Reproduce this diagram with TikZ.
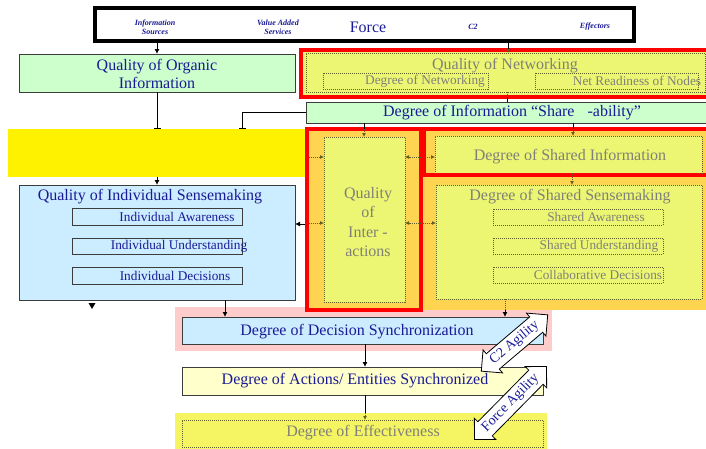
\documentclass[tikz,border=0pt]{standalone}
\usepackage{fontspec}
\setmainfont{Liberation Serif}
\usetikzlibrary{arrows.meta,shapes.arrows}
\definecolor{navy}{RGB}{26,26,150}
\definecolor{graytxt}{RGB}{128,128,120}
\definecolor{greenf}{RGB}{204,255,204}
\definecolor{bluef}{RGB}{204,236,255}
\definecolor{lyellow}{RGB}{255,255,204}
\definecolor{pinkf}{RGB}{255,204,204}
\definecolor{orangef}{RGB}{255,212,80}
\definecolor{patf}{RGB}{236,246,115}
\definecolor{patf2}{RGB}{245,245,100}
\definecolor{dotc}{RGB}{95,95,40}
\definecolor{boxline}{RGB}{60,60,60}
\newcommand\fsz[2]{\fontsize{#1}{#2}\selectfont}
\newcommand\rbox[6]{\node[#6, inner sep=0pt, outer sep=0pt, minimum width={(#4-#2)*1pt}, minimum height={(#5-#3)*1pt}] (#1) at ({(#2+#4)/2},{(#3+#5)/2}) {};}
\begin{document}
\begin{tikzpicture}[x=1pt,y=-1pt,
  every node/.style={inner sep=0pt, outer sep=0pt},
  greenbox/.style={draw=boxline, line width=0.8pt, fill=greenf},
  bluebox/.style={draw=boxline, line width=0.8pt, fill=bluef},
  ybox/.style={draw=boxline, line width=0.8pt, fill=lyellow},
  subbox/.style={draw=boxline, line width=0.8pt},
  dotbox/.style={draw=dotc, line width=0.7pt, dash pattern=on 1pt off 1pt, fill=patf},
  dotsub/.style={draw=dotc, line width=0.7pt, dash pattern=on 1pt off 1pt},
  redframe/.style={draw=red, line width=4pt, fill=orangef},
  txt/.style={text=navy, font=\fsz{16}{18}, align=center},
  subtxt/.style={text=navy, font=\fsz{13.3}{15}},
  gtxt/.style={text=graytxt, font=\fsz{16}{18}, align=center},
  gsubtxt/.style={text=graytxt, font=\fsz{13.3}{15}},
  toplab/.style={text=navy, font=\fsz{8}{9}\bfseries\itshape, align=center},
  ln/.style={draw=black, line width=0.9pt},
  arr/.style={draw=black, line width=0.9pt, -{Latex[length=5pt,width=5pt]}},
  barend/.style={draw=black, line width=0.9pt, -{Bar[width=7pt,line width=1pt]}},
  dln/.style={draw=dotc, line width=0.8pt, dash pattern=on 1pt off 1pt},
  darr/.style={draw=dotc, line width=0.8pt, dash pattern=on 1pt off 1pt, -{Latex[length=4pt,width=4pt,sep=0pt]}},
  agil/.style={double arrow, draw=black, fill=white, line width=0.8pt, text=navy, font=\fsz{14}{16}, inner sep=3.3pt, double arrow head extend=5pt, double arrow tip angle=90}
]
\clip (0,0) rectangle (706,448);
\fill[white] (0,0) rectangle (706,448);

% background areas
\rbox{pink}{175}{307}{552}{351}{fill=pinkf}
\rbox{yband}{8}{129}{307}{177}{fill=yellow}
\rbox{sensearea}{423}{176}{712}{310}{fill=orangef}
\rbox{effarea}{175}{413}{547}{452}{fill=patf2}

% top bar
\rbox{topbar}{95}{8}{634}{41}{draw=black, line width=3.5pt, fill=white}
\node[toplab] (infosrc) at (155,27) {Information\\Sources};
\node[toplab] (vas) at (278,27) {Value Added\\Services};
\node[txt, font=\fsz{16}{18}] (force) at (368,27) {Force};
\node[toplab] (ctwo) at (473,27) {C2};
\node[toplab] (effectors) at (595,27) {Effectors};

% organic information
\rbox{organic}{19}{54}{295}{92}{greenbox}
\node[txt] (organict) at (157,74) {Quality of Organic\\Information};

% networking
\rbox{netred}{301}{50}{720}{97}{redframe, fill=patf}
\rbox{netin}{306}{53}{705}{92}{dotbox}
\node[gtxt] (nett) at (505,66) {Quality of Networking};
\rbox{degnet}{323}{73}{488}{89}{dotsub}
\node[gsubtxt] (degnett) at (425,81) {Degree of Networking};
\rbox{netready}{535}{73}{698}{89}{dotsub}
\node[gsubtxt] (netreadyt) at (637,81) {Net Readiness of Nodes};

% share-ability
\rbox{shareinfo}{306}{102}{720}{123}{greenbox}
\node[txt] (shareinfot) at (512,113) {Degree of Information “Share\hspace{13pt}-ability”};

% shared information
\rbox{sinfred}{424}{129}{720}{175}{redframe}
\rbox{sinfin}{435}{136}{702}{173}{dotbox}
\node[gtxt] (sinft) at (570,157) {Degree of Shared Information};

% shared sensemaking
\rbox{sensein}{436}{185}{702}{299}{dotbox}
\node[gtxt] (senset) at (570,197) {Degree of Shared Sensemaking};
\rbox{saw}{493}{209}{663}{225}{dotsub}
\node[gsubtxt] (sawt) at (596,217) {Shared Awareness};
\rbox{sund}{493}{238}{663}{254}{dotsub}
\node[gsubtxt] (sundt) at (599,246) {Shared Understanding};
\rbox{scol}{493}{267}{663}{283}{dotsub}
\node[gsubtxt] (scolt) at (598,275) {Collaborative Decisions};

% interactions
\rbox{intred}{307}{129}{421}{310}{redframe}
\rbox{intin}{324}{137}{405}{302}{dotbox}
\node[gtxt, font=\fsz{16}{19.5}] (intt) at (368,222) {Quality\\of\\Inter -\\actions};

% individual sensemaking
\rbox{indiv}{19}{185}{295}{300}{bluebox}
\node[txt] (indivt) at (150,197) {Quality of Individual Sensemaking};
\rbox{iaw}{72}{208}{242}{225}{subbox}
\node[subtxt] (iawt) at (177,217) {Individual Awareness};
\rbox{iund}{72}{238}{242}{254}{subbox}
\node[subtxt] (iundt) at (179,246) {Individual Understanding};
\rbox{idec}{72}{267}{242}{284}{subbox}
\node[subtxt] (idect) at (175,276) {Individual Decisions};

% decision synchronization, actions, effectiveness
\rbox{decsync}{182}{317}{543}{344}{bluebox}
\node[txt] (decsynct) at (357,332) {Degree of Decision Synchronization};
\rbox{actions}{182}{367}{543}{395}{ybox}
\node[txt] (actionst) at (355,381) {Degree of Actions/ Entities Synchronized};
\rbox{effin}{182}{420}{543}{447}{dotbox, fill=patf2}
\node[gtxt] (efft) at (363,433) {Degree of Effectiveness};

% connectors
\draw[arr] (topbar.south -| organic.north) -- (organic.north);
\draw[ln] (topbar.south -| 508,0) -- (netred.north -| 508,0);
\draw[darr] (netred.north -| 508,0) -- (netin.north -| 508,0);
\draw[dln] (netin.south -| 507,0) -- (netred.south -| 507,0);
\draw[ln] (netred.south -| 507,0) -- (shareinfo.north -| 507,0);
\draw[barend] (organic.south) -- (yband.north -| organic.south);
\draw[barend] (shareinfo.west) -| (yband.north -| 242,0);
\draw[arr] (yband.south -| 157,0) -- (indiv.north -| 157,0);
\draw[ln] (shareinfo.south -| 364,0) -- (intred.north -| 364,0);
\draw[darr] (intred.north -| 364,0) -- (intin.north -| 364,0);
\draw[ln] (shareinfo.south -| 573,0) -- (sinfred.north -| 573,0);
\draw[darr] (sinfred.north -| 573,0) -- (sinfin.north -| 573,0);
\draw[darr] (sinfin.south -| 572,0) -- (sensein.north -| 572,0);
\draw[darr] (intred.west |- 0,157) -- (intin.west |- 0,157);
\draw[darr] (intred.east |- 0,157) -- (intin.east |- 0,157);
\draw[darr] (intred.east |- 0,157) -- (sinfin.west |- 0,157);
\draw[darr] (intred.west |- 0,223) -- (intin.west |- 0,223);
\draw[darr] (intred.east |- 0,223) -- (intin.east |- 0,223);
\draw[darr] (intred.east |- 0,223) -- (sensein.west |- 0,223);
\draw[arr] (305,224) -- (indiv.east |- 0,224);
\draw[arr] (indiv.south -| 225,0) -- (decsync.north -| 225,0);
\draw[dln] (sensein.south -| 505,0) -- (sensearea.south -| 505,0);
\draw[arr] (sensearea.south -| 505,0) -- (decsync.north -| 505,0);
\draw[arr] (decsync.south -| 365,0) -- (actions.north -| 365,0);
\draw[ln] (actions.south -| 365,0) -- (effarea.north -| 365,0);
\draw[darr] (effarea.north -| 365,0) -- (effin.north -| 365,0);
\coordinate (lonetip) at (92,309);
\fill (lonetip) -- ++(-3.5,-6) -- ++(7,0) -- cycle;

% agility arrows
\node[agil, rotate=40.3, minimum height=80pt] (c2ag) at (514.5,343) {C2 Agility};
\node[agil, rotate=45.4, minimum height=100pt] (forceag) at (510.5,403) {Force Agility};
\end{tikzpicture}
\end{document}
